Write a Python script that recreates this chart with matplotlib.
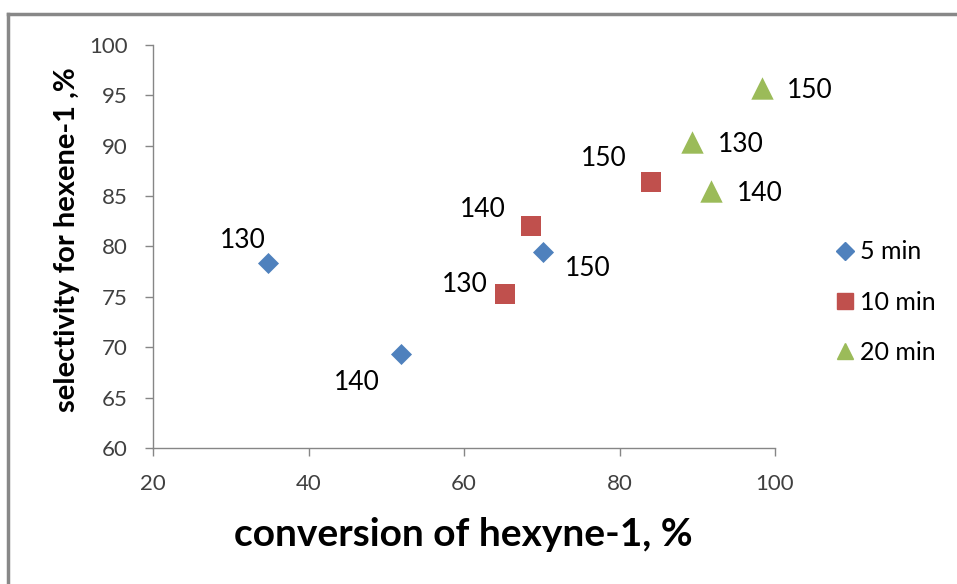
import matplotlib
matplotlib.use("Agg")
import matplotlib.pyplot as plt
from matplotlib.lines import Line2D

plt.rcParams['font.family'] = ['Lato', 'DejaVu Sans']

series_names = ["5 min", "10 min", "20 min"]
conv_5 = [34.8, 51.9, 70.2]
sel_5 = [78.4, 69.3, 79.5]
temp_5 = ["130", "140", "150"]
conv_10 = [65.3, 68.6, 84.0]
sel_10 = [75.3, 82.0, 86.4]
temp_10 = ["130", "140", "150"]
conv_20 = [89.3, 91.8, 98.3]
sel_20 = [90.4, 85.5, 95.7]
temp_20 = ["130", "140", "150"]

x_ticks = [20, 40, 60, 80, 100]
y_ticks = [60, 65, 70, 75, 80, 85, 90, 95, 100]

# label offsets in pixels (style)
off_5 = [(-25, 22), (-44, -28), (44, -17)]
off_10 = [(-40, 9), (-48, 17), (-47, 24)]
off_20 = [(49, -3), (49, -2), (48, -2)]

fig = plt.figure(figsize=(9.57, 5.84), dpi=100)
ax = fig.add_axes([153/957, 1-448/584, (775-153)/957, (448-45)/584])

styles = [
    dict(marker='D', color='#4F81BD', s=115),
    dict(marker='s', color='#C0504D', s=210),
    dict(marker='^', color='#9BBB59', s=260),
]
data = [(conv_5, sel_5, temp_5, off_5), (conv_10, sel_10, temp_10, off_10), (conv_20, sel_20, temp_20, off_20)]
handles = []
for name, (xs, ys, ts, offs), st in zip(series_names, data, styles):
    ax.scatter(xs, ys, marker=st['marker'], c=st['color'], s=st['s'], linewidths=0, zorder=3)
    for x, y, t, o in zip(xs, ys, ts, offs):
        ax.annotate(t, (x, y), xytext=o, textcoords='offset pixels', ha='center', va='center',
                    fontsize=19, color='#000000')
    ms = {'D': 9, 's': 11, '^': 12}[st['marker']]
    handles.append(Line2D([], [], marker=st['marker'], color=st['color'], linestyle='none', markersize=ms, label=name))

ax.set_xlim(20, 100)
ax.set_ylim(60, 100)
ax.set_xticks(x_ticks)
ax.set_yticks(y_ticks)
for sp in ['top', 'right']:
    ax.spines[sp].set_visible(False)
for sp in ['left', 'bottom']:
    ax.spines[sp].set_color('#868686')
    ax.spines[sp].set_linewidth(1.0)
ax.tick_params(axis='both', colors='#868686', length=6, width=1, labelsize=16, labelcolor='#404040', direction='out')
ax.tick_params(axis='x', pad=13)
ax.tick_params(axis='y', pad=12)

ax.set_xlabel("conversion of hexyne-1, %", fontsize=28, fontweight='bold')
ax.set_ylabel("selectivity for hexene-1 ,%", fontsize=21, fontweight='bold')
ax.xaxis.set_label_coords((463-153)/622, (448-535)/403)
ax.xaxis.label.set_va('center')
ax.yaxis.set_label_coords((67-153)/622, (448-240)/403)
ax.yaxis.label.set_va('center')

leg = fig.legend(handles=handles, loc='center left', bbox_to_anchor=(822/957, 1-302/584),
                 frameon=False, fontsize=18, handletextpad=0.1, labelspacing=1.09, handlelength=1.0,
                 borderaxespad=0)

fig.add_artist(Line2D([8/957, 8/957], [0, 1-14/584], transform=fig.transFigure, color='#888888', lw=2.5))
fig.add_artist(Line2D([8/957, 1], [1-14/584, 1-14/584], transform=fig.transFigure, color='#888888', lw=2.5))

fig.savefig("out.png", dpi=100, facecolor='white')
